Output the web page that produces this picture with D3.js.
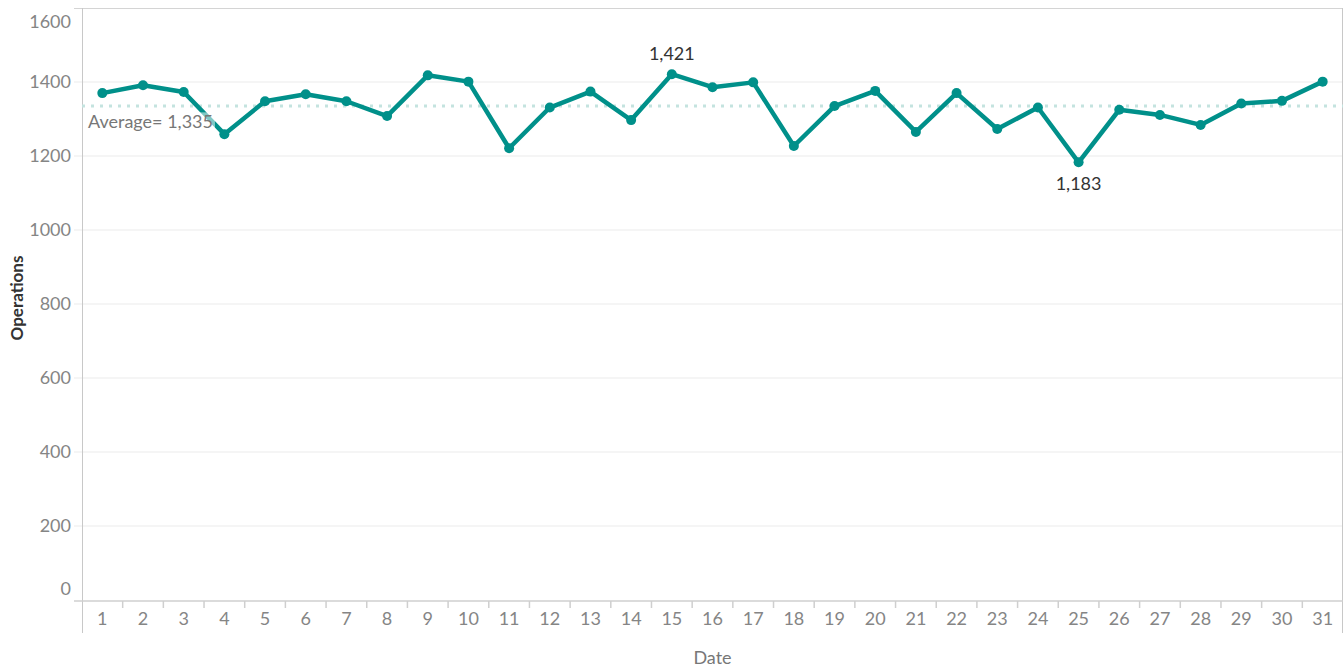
<!DOCTYPE html>
<html>
<head>
<meta charset="utf-8">
<script src="https://cdn.jsdelivr.net/npm/d3@7"></script>
<style>
  body { margin: 0; background: #fff; }
  svg text { font-family: Lato, "Noto Sans", sans-serif; }
</style>
</head>
<body>
<div id="chart"></div>
<script>
// daily operations
var dates = d3.range(1, 32);
var operations = [1370, 1391, 1373, 1259, 1348, 1367, 1348, 1308, 1418, 1401,
                  1221, 1331, 1374, 1297, 1421, 1386, 1399, 1227, 1335, 1376,
                  1265, 1370, 1273, 1331, 1183, 1325, 1311, 1284, 1342, 1349, 1401];
var yTicks = [0, 200, 400, 600, 800, 1000, 1200, 1400, 1600];
var labelled = [15, 25];   // dates with value labels

var W = 1344, H = 667;
var margin = { top: 8, right: 1, bottom: 67, left: 82 };
var width = W - margin.left - margin.right;
var height = H - margin.top - margin.bottom;
var teal = "#00908a";

var data = dates.map((d, i) => ({ date: d, value: operations[i] }));
var avg = d3.mean(operations);

var svg = d3.select("#chart").append("svg")
    .attr("width", W)
    .attr("height", H);

var g = svg.append("g")
    .attr("transform", `translate(${margin.left},${margin.top})`);

var x = d3.scaleBand()
    .domain(dates)
    .range([0, width]);

var y = d3.scaleLinear()
    .domain([0, 1600])
    .range([height, 0]);

// gridlines
g.selectAll("line.grid")
    .data(yTicks.filter(t => t > 0 && t < 1600))
    .enter().append("line")
    .attr("class", "grid")
    .attr("x1", -8).attr("x2", width)
    .attr("y1", d => y(d)).attr("y2", d => y(d))
    .attr("stroke", "#ececec").attr("stroke-width", 1.2);

// frame
g.append("line").attr("x1", -8).attr("x2", width).attr("y1", 0.5).attr("y2", 0.5)
    .attr("stroke", "#d4d4d4");
g.append("line").attr("x1", 0.5).attr("x2", 0.5).attr("y1", 0).attr("y2", height + 33)
    .attr("stroke", "#c8c8c8");
g.append("line").attr("x1", width - 0.5).attr("x2", width - 0.5).attr("y1", 0).attr("y2", height + 33)
    .attr("stroke", "#c8c8c8");
g.append("line").attr("x1", -8).attr("x2", width).attr("y1", height + 1).attr("y2", height + 1)
    .attr("stroke", "#cfcfcf").attr("stroke-width", 1.5);

// y axis labels
g.selectAll("text.ytick")
    .data(yTicks)
    .enter().append("text")
    .attr("class", "ytick")
    .attr("x", -11)
    .attr("y", d => Math.min(Math.max(y(d), 14), height - 11))
    .attr("dy", "0.35em")
    .attr("text-anchor", "end")
    .attr("fill", "#858585")
    .attr("font-size", 18)
    .text(d => d);

// x axis
var xAxis = g.append("g")
    .attr("transform", `translate(0,${height + 1})`)
    .call(d3.axisBottom(x).tickSize(0).tickPadding(11));
xAxis.select(".domain").remove();
xAxis.selectAll("text")
    .attr("fill", "#858585")
    .attr("font-size", 18);
g.selectAll("line.xtick")
    .data(dates.slice(1))
    .enter().append("line")
    .attr("class", "xtick")
    .attr("x1", d => x(d)).attr("x2", d => x(d))
    .attr("y1", height + 1).attr("y2", height + 8)
    .attr("stroke", "#cfcfcf").attr("stroke-width", 1.5);

// axis titles
svg.append("text")
    .attr("x", margin.left + width / 2)
    .attr("y", 658)
    .attr("dy", "0.35em")
    .attr("text-anchor", "middle")
    .attr("fill", "#777")
    .attr("font-size", 18)
    .text("Date");
svg.append("text")
    .attr("transform", `translate(17,298) rotate(-90)`)
    .attr("dy", "0.35em")
    .attr("text-anchor", "middle")
    .attr("fill", "#333")
    .attr("font-size", 17)
    .attr("font-weight", "bold")
    .text("Operations");

// average line
g.append("line")
    .attr("x1", 0).attr("x2", width)
    .attr("y1", y(avg)).attr("y2", y(avg))
    .attr("stroke", "#c4e3df")
    .attr("stroke-width", 3)
    .attr("stroke-dasharray", "3,6");

// series line
var xc = d => x(d.date) + x.bandwidth() / 2;
g.append("path")
    .datum(data)
    .attr("fill", "none")
    .attr("stroke", teal)
    .attr("stroke-width", 4.5)
    .attr("stroke-linejoin", "round")
    .attr("d", d3.line().x(xc).y(d => y(d.value)));

g.selectAll("circle.pt")
    .data(data)
    .enter().append("circle")
    .attr("class", "pt")
    .attr("cx", xc)
    .attr("cy", d => y(d.value))
    .attr("r", 5)
    .attr("fill", teal);

// average label (semi-opaque box over the line)
var avgLabel = g.append("g")
    .attr("transform", `translate(6,${y(avg) + 16})`);
var avgText = avgLabel.append("text")
    .attr("fill", "#777")
    .attr("font-size", 18)
    .attr("dy", "0.35em")
    .text("Average= " + d3.format(",.0f")(avg));
var bb = avgText.node().getBBox();
avgLabel.insert("rect", "text")
    .attr("x", bb.x - 2).attr("y", bb.y + 2)
    .attr("width", bb.width + 4).attr("height", bb.height - 4)
    .attr("fill", "#fff").attr("fill-opacity", 0.5);

// value labels
g.selectAll("text.vlabel")
    .data(data.filter(d => labelled.includes(d.date)))
    .enter().append("text")
    .attr("class", "vlabel")
    .attr("x", xc)
    .attr("y", d => d.value > avg ? y(d.value) - 21 : y(d.value) + 21)
    .attr("dy", "0.35em")
    .attr("text-anchor", "middle")
    .attr("fill", "#333")
    .attr("font-size", 18)
    .text(d => d3.format(",")(d.value));
</script>
</body>
</html>
